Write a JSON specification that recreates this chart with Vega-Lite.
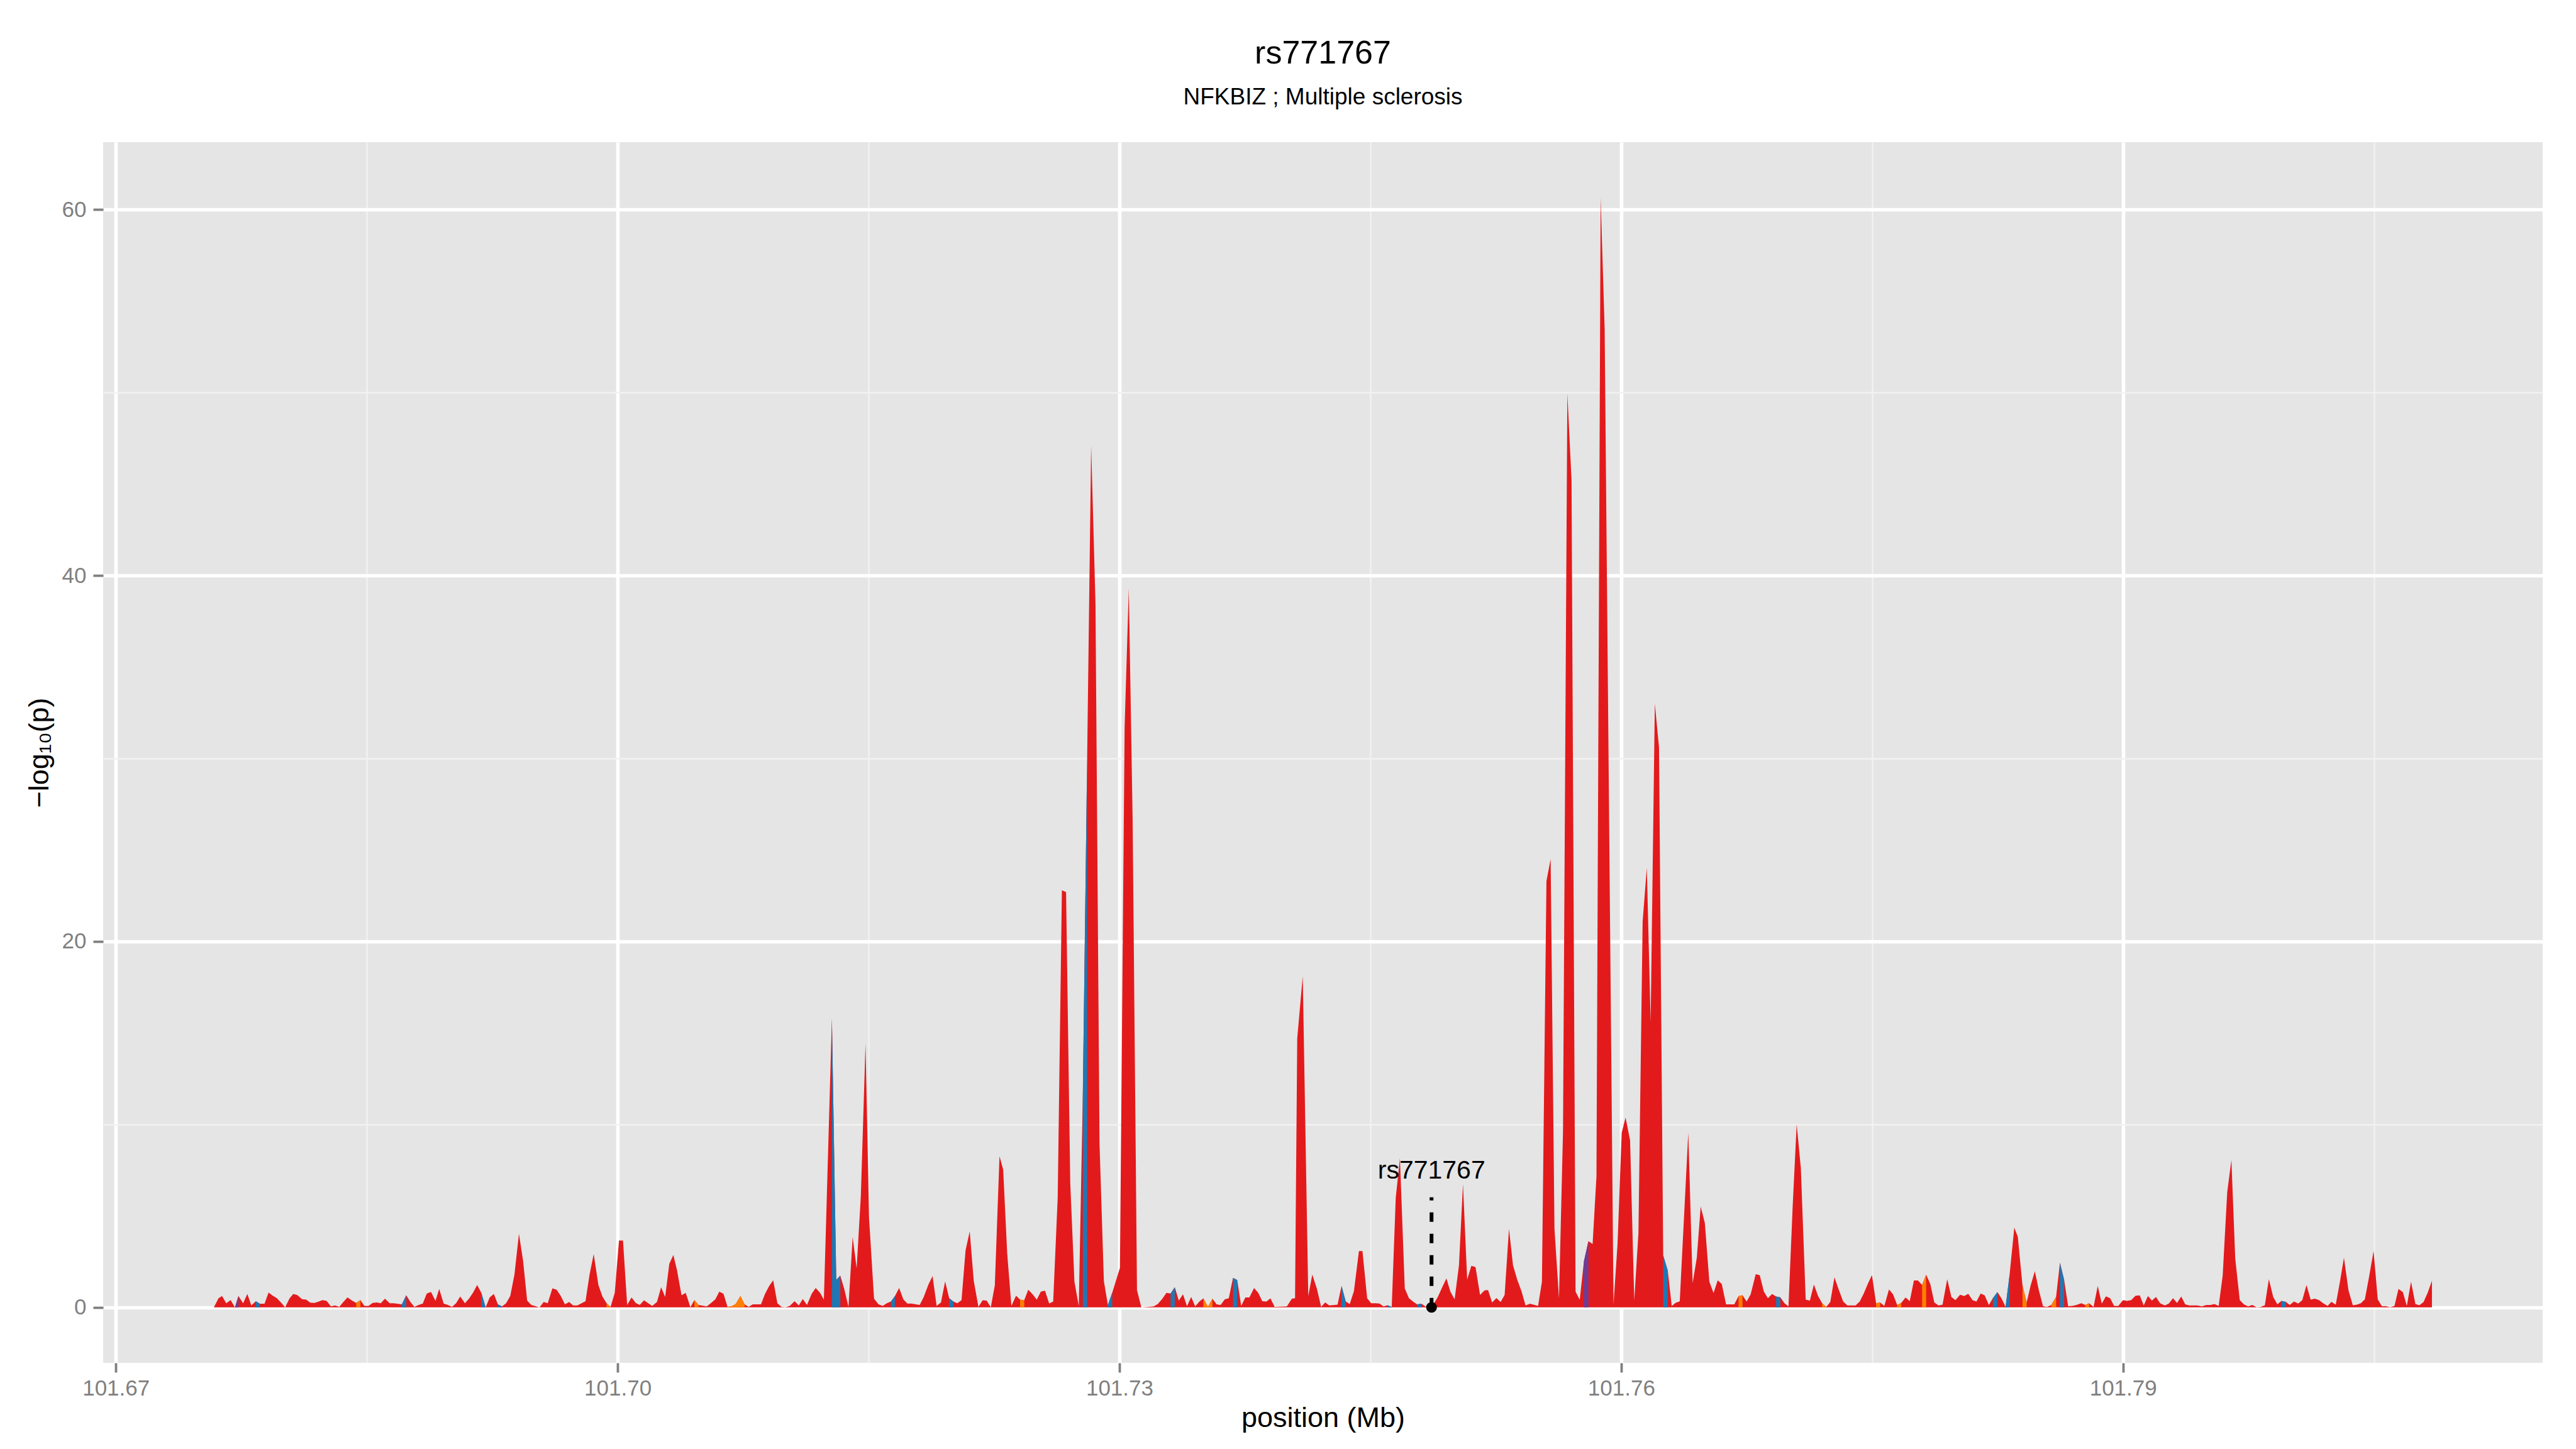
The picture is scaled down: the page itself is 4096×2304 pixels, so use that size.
{
"$schema":"https://vega.github.io/schema/vega-lite/v6.json",
"autosize":{"type":"none"},
"width":3879,"height":1941,
"padding":{"left":164,"top":226,"right":53,"bottom":137},
"background":"white",
"config":{"font":"Liberation Sans","view":{"fill":"#E5E5E5","stroke":null}},
"title":{"text":"rs771767","subtitle":"NFKBIZ ; Multiple sclerosis","anchor":"middle","frame":"group","fontSize":52,"subtitleFontSize":37,"fontWeight":"normal","color":"black","subtitleColor":"black","subtitlePadding":25,"offset":52,"font":"Liberation Sans","subtitleFont":"Liberation Sans"},
"datasets":{
"snp":[
{"pos":101.67586,"logp":0},{"pos":101.67614,"logp":0.5},{"pos":101.67635,"logp":0.62},{"pos":101.6766,"logp":0.22},{"pos":101.67686,"logp":0.4},{"pos":101.67712,"logp":0},{"pos":101.67733,"logp":0.62},{"pos":101.67761,"logp":0.22},{"pos":101.67786,"logp":0.73},{"pos":101.6781,"logp":0.1},
{"pos":101.67837,"logp":0.34},{"pos":101.67861,"logp":0.2},{"pos":101.67889,"logp":0.2},{"pos":101.67913,"logp":0.81},{"pos":101.67938,"logp":0.64},{"pos":101.67963,"logp":0.5},{"pos":101.67987,"logp":0.27},{"pos":101.68012,"logp":0},{"pos":101.68039,"logp":0.5},{"pos":101.68061,"logp":0.73},
{"pos":101.68085,"logp":0.67},{"pos":101.68113,"logp":0.45},{"pos":101.68138,"logp":0.42},{"pos":101.68162,"logp":0.26},{"pos":101.68187,"logp":0.24},{"pos":101.68211,"logp":0.31},{"pos":101.68236,"logp":0.4},{"pos":101.6826,"logp":0.35},{"pos":101.68286,"logp":0.05},{"pos":101.68311,"logp":0.1},
{"pos":101.68336,"logp":0.03},{"pos":101.6836,"logp":0.29},{"pos":101.68385,"logp":0.54},{"pos":101.68412,"logp":0.37},{"pos":101.68437,"logp":0.24},{"pos":101.68462,"logp":0.4},{"pos":101.68486,"logp":0.08},{"pos":101.68511,"logp":0.08},{"pos":101.68535,"logp":0.24},{"pos":101.6856,"logp":0.27},
{"pos":101.68584,"logp":0.22},{"pos":101.68609,"logp":0.47},{"pos":101.68637,"logp":0.22},{"pos":101.68661,"logp":0.22},{"pos":101.6871,"logp":0.16},{"pos":101.68736,"logp":0.66},{"pos":101.68761,"logp":0.29},{"pos":101.68785,"logp":0.03},{"pos":101.6881,"logp":0.13},{"pos":101.68835,"logp":0.21},
{"pos":101.68859,"logp":0.76},{"pos":101.68884,"logp":0.84},{"pos":101.68911,"logp":0.35},{"pos":101.68933,"logp":1.01},{"pos":101.6896,"logp":0.21},{"pos":101.68985,"logp":0.13},{"pos":101.6901,"logp":0.03},{"pos":101.69034,"logp":0.22},{"pos":101.69059,"logp":0.59},{"pos":101.69087,"logp":0.22},
{"pos":101.69111,"logp":0.47},{"pos":101.69136,"logp":0.81},{"pos":101.6916,"logp":1.22},{"pos":101.69185,"logp":0.79},{"pos":101.69211,"logp":0},{"pos":101.69235,"logp":0.54},{"pos":101.6926,"logp":0.73},{"pos":101.69284,"logp":0.16},{"pos":101.69309,"logp":0.05},{"pos":101.69333,"logp":0.22},
{"pos":101.69358,"logp":0.62},{"pos":101.69383,"logp":1.79},{"pos":101.6941,"logp":4.02},{"pos":101.69435,"logp":2.52},{"pos":101.69459,"logp":0.37},{"pos":101.69484,"logp":0.13},{"pos":101.69533,"logp":0},{"pos":101.69558,"logp":0.29},{"pos":101.69582,"logp":0.22},{"pos":101.6961,"logp":1.04},
{"pos":101.69635,"logp":0.96},{"pos":101.69659,"logp":0.64},{"pos":101.69685,"logp":0.16},{"pos":101.6971,"logp":0.29},{"pos":101.69734,"logp":0.1},{"pos":101.69759,"logp":0.1},{"pos":101.69808,"logp":0.34},{"pos":101.69832,"logp":1.79},{"pos":101.69857,"logp":2.91},{"pos":101.69885,"logp":1.22},
{"pos":101.69909,"logp":0.59},{"pos":101.69934,"logp":0.22},{"pos":101.69958,"logp":0.03},{"pos":101.69983,"logp":0.81},{"pos":101.70008,"logp":3.65},{"pos":101.70032,"logp":3.65},{"pos":101.70057,"logp":0.13},{"pos":101.70083,"logp":0.54},{"pos":101.70108,"logp":0.24},{"pos":101.70132,"logp":0.13},
{"pos":101.70158,"logp":0.39},{"pos":101.70183,"logp":0.22},{"pos":101.70207,"logp":0.08},{"pos":101.70235,"logp":0.29},{"pos":101.7026,"logp":1.1},{"pos":101.70284,"logp":0.57},{"pos":101.70309,"logp":2.38},{"pos":101.70333,"logp":2.86},{"pos":101.70355,"logp":2.03},{"pos":101.70382,"logp":0.66},
{"pos":101.70407,"logp":0.79},{"pos":101.70435,"logp":0.01},{"pos":101.70459,"logp":0.4},{"pos":101.70484,"logp":0.13},{"pos":101.70533,"logp":0.05},{"pos":101.70559,"logp":0.24},{"pos":101.70584,"logp":0.44},{"pos":101.70608,"logp":0.86},{"pos":101.70633,"logp":0.74},{"pos":101.70657,"logp":0.03},
{"pos":101.70682,"logp":0.06},{"pos":101.70706,"logp":0.18},{"pos":101.70734,"logp":0.62},{"pos":101.70759,"logp":0.16},{"pos":101.70783,"logp":0.03},{"pos":101.70808,"logp":0.16},{"pos":101.70857,"logp":0.16},{"pos":101.70881,"logp":0.73},{"pos":101.70906,"logp":1.17},{"pos":101.7093,"logp":1.48},
{"pos":101.70955,"logp":0.22},{"pos":101.7098,"logp":0.03},{"pos":101.71004,"logp":0.01},{"pos":101.71029,"logp":0.08},{"pos":101.71058,"logp":0.34},{"pos":101.71083,"logp":0.1},{"pos":101.71107,"logp":0.46},{"pos":101.71132,"logp":0.13},{"pos":101.7116,"logp":0.74},{"pos":101.71184,"logp":1.06},
{"pos":101.71209,"logp":0.81},{"pos":101.71233,"logp":0.42},{"pos":101.71281,"logp":15.8},{"pos":101.71307,"logp":1.5},{"pos":101.71331,"logp":1.74},{"pos":101.71356,"logp":0.96},{"pos":101.7138,"logp":0.03},{"pos":101.71405,"logp":3.84},{"pos":101.71429,"logp":2.13},{"pos":101.71454,"logp":6.09},
{"pos":101.71482,"logp":14.4},{"pos":101.71503,"logp":4.9},{"pos":101.71533,"logp":0.47},{"pos":101.7156,"logp":0.16},{"pos":101.71585,"logp":0.08},{"pos":101.71609,"logp":0.22},{"pos":101.71634,"logp":0.32},{"pos":101.71658,"logp":0.62},{"pos":101.71683,"logp":1.06},{"pos":101.71708,"logp":0.44},
{"pos":101.71732,"logp":0.21},{"pos":101.71757,"logp":0.21},{"pos":101.71806,"logp":0.13},{"pos":101.7183,"logp":0.57},{"pos":101.71858,"logp":1.25},{"pos":101.71883,"logp":1.71},{"pos":101.71907,"logp":0.08},{"pos":101.71933,"logp":0.27},{"pos":101.71958,"logp":1.42},{"pos":101.71982,"logp":0.5},
{"pos":101.72007,"logp":0.32},{"pos":101.72031,"logp":0.22},{"pos":101.72056,"logp":0.4},{"pos":101.7208,"logp":3.11},{"pos":101.72105,"logp":4.15},{"pos":101.72129,"logp":1.45},{"pos":101.72157,"logp":0.03},{"pos":101.72182,"logp":0.39},{"pos":101.72206,"logp":0.37},{"pos":101.72231,"logp":0.01},
{"pos":101.72255,"logp":1.2},{"pos":101.72283,"logp":8.26},{"pos":101.72305,"logp":7.53},{"pos":101.72329,"logp":2.96},{"pos":101.72354,"logp":0.08},{"pos":101.72382,"logp":0.64},{"pos":101.72406,"logp":0.42},{"pos":101.72431,"logp":0.4},{"pos":101.72455,"logp":0.96},{"pos":101.72481,"logp":0.71},
{"pos":101.72506,"logp":0.42},{"pos":101.7253,"logp":0.86},{"pos":101.72555,"logp":0.91},{"pos":101.7258,"logp":0.21},{"pos":101.72604,"logp":0.32},{"pos":101.72631,"logp":6.0},{"pos":101.72656,"logp":22.8},{"pos":101.72681,"logp":22.7},{"pos":101.72706,"logp":6.8},{"pos":101.72731,"logp":1.4},
{"pos":101.72757,"logp":0.07},{"pos":101.72781,"logp":11.5},{"pos":101.72807,"logp":30.0},{"pos":101.72831,"logp":47.1},{"pos":101.72857,"logp":38.4},{"pos":101.72881,"logp":8.95},{"pos":101.72907,"logp":1.44},{"pos":101.72931,"logp":0.13},{"pos":101.72957,"logp":0.8},{"pos":101.73003,"logp":2.16},
{"pos":101.73031,"logp":31.7},{"pos":101.73056,"logp":39.3},{"pos":101.73079,"logp":26.6},{"pos":101.73105,"logp":0.95},{"pos":101.73131,"logp":0},{"pos":101.73205,"logp":0.05},{"pos":101.73229,"logp":0.18},{"pos":101.73254,"logp":0.44},{"pos":101.73281,"logp":0.79},{"pos":101.73306,"logp":0.76},
{"pos":101.73331,"logp":1.1},{"pos":101.73355,"logp":0.37},{"pos":101.7338,"logp":0.71},{"pos":101.73404,"logp":0.06},{"pos":101.73429,"logp":0.57},{"pos":101.73453,"logp":0.05},{"pos":101.73478,"logp":0.32},{"pos":101.73502,"logp":0.49},{"pos":101.73529,"logp":0.03},{"pos":101.73556,"logp":0.47},
{"pos":101.73581,"logp":0.16},{"pos":101.73605,"logp":0.13},{"pos":101.7363,"logp":0.44},{"pos":101.73654,"logp":0.5},{"pos":101.73679,"logp":1.61},{"pos":101.73704,"logp":1.5},{"pos":101.73728,"logp":0.08},{"pos":101.73753,"logp":0.54},{"pos":101.73777,"logp":0.54},{"pos":101.73805,"logp":1.06},
{"pos":101.7383,"logp":0.79},{"pos":101.73854,"logp":0.34},{"pos":101.73879,"logp":0.32},{"pos":101.73903,"logp":0.49},{"pos":101.73928,"logp":0.03},{"pos":101.74001,"logp":0.05},{"pos":101.74031,"logp":0.47},{"pos":101.7405,"logp":0.5},{"pos":101.74063,"logp":14.7},{"pos":101.74096,"logp":18.1},
{"pos":101.74129,"logp":0.62},{"pos":101.74153,"logp":1.79},{"pos":101.74181,"logp":1.01},{"pos":101.74206,"logp":0.03},{"pos":101.7423,"logp":0.27},{"pos":101.74255,"logp":0.1},{"pos":101.74304,"logp":0.15},{"pos":101.74328,"logp":1.17},{"pos":101.74353,"logp":0.32},{"pos":101.74377,"logp":0.18},
{"pos":101.74402,"logp":0.89},{"pos":101.74432,"logp":3.08},{"pos":101.74453,"logp":3.08},{"pos":101.74481,"logp":0.5},{"pos":101.74505,"logp":0.22},{"pos":101.7453,"logp":0.22},{"pos":101.74555,"logp":0.21},{"pos":101.74579,"logp":0.05},{"pos":101.74603,"logp":0.11},{"pos":101.74628,"logp":0.03},
{"pos":101.74652,"logp":5.99},{"pos":101.74677,"logp":8.16},{"pos":101.74706,"logp":1.03},{"pos":101.74731,"logp":0.5},{"pos":101.74755,"logp":0.32},{"pos":101.7478,"logp":0.16},{"pos":101.74805,"logp":0.2},{"pos":101.74829,"logp":0.05},{"pos":101.74866,"logp":0},{"pos":101.74902,"logp":0.54},
{"pos":101.74929,"logp":1.08},{"pos":101.74955,"logp":1.58},{"pos":101.74979,"logp":0.85},{"pos":101.75004,"logp":0.44},{"pos":101.7503,"logp":2.3},{"pos":101.75054,"logp":6.74},{"pos":101.75079,"logp":1.52},{"pos":101.75104,"logp":2.27},{"pos":101.75129,"logp":2.2},{"pos":101.75156,"logp":0.68},
{"pos":101.75183,"logp":0.93},{"pos":101.75204,"logp":0.95},{"pos":101.75228,"logp":0.27},{"pos":101.75254,"logp":0.51},{"pos":101.75279,"logp":0.29},{"pos":101.75303,"logp":0.68},{"pos":101.75329,"logp":4.3},{"pos":101.75353,"logp":2.3},{"pos":101.75378,"logp":1.52},{"pos":101.75404,"logp":0.88},
{"pos":101.75428,"logp":0.1},{"pos":101.75455,"logp":0.2},{"pos":101.75503,"logp":0.08},{"pos":101.75526,"logp":1.4},{"pos":101.75553,"logp":23.3},{"pos":101.75578,"logp":24.5},{"pos":101.75601,"logp":4.28},{"pos":101.75628,"logp":0.49},{"pos":101.75652,"logp":9.63},{"pos":101.75678,"logp":49.96},
{"pos":101.75703,"logp":45.2},{"pos":101.75727,"logp":0.86},{"pos":101.75752,"logp":0.41},{"pos":101.75777,"logp":2.51},{"pos":101.75804,"logp":3.62},{"pos":101.75829,"logp":3.46},{"pos":101.75852,"logp":7.16},{"pos":101.75877,"logp":60.66},{"pos":101.75901,"logp":53.46},{"pos":101.75954,"logp":0.16},
{"pos":101.75978,"logp":3.46},{"pos":101.76003,"logp":9.55},{"pos":101.76026,"logp":10.37},{"pos":101.76053,"logp":9.14},{"pos":101.76078,"logp":0.37},{"pos":101.76103,"logp":4.07},{"pos":101.76128,"logp":21.07},{"pos":101.76153,"logp":24.03},{"pos":101.76176,"logp":15.6},{"pos":101.76201,"logp":33.0},
{"pos":101.76226,"logp":30.6},{"pos":101.76251,"logp":2.84},{"pos":101.76278,"logp":2.02},{"pos":101.76302,"logp":0.08},{"pos":101.76326,"logp":0.25},{"pos":101.7635,"logp":0.33},{"pos":101.76401,"logp":9.55},{"pos":101.76427,"logp":1.32},{"pos":101.76452,"logp":2.72},{"pos":101.76475,"logp":5.51},
{"pos":101.765,"logp":4.61},{"pos":101.76527,"logp":1.4},{"pos":101.76552,"logp":0.78},{"pos":101.76577,"logp":1.48},{"pos":101.76601,"logp":1.28},{"pos":101.76627,"logp":0.16},{"pos":101.76676,"logp":0.16},{"pos":101.76702,"logp":0.62},{"pos":101.76725,"logp":0.66},{"pos":101.7675,"logp":0.32},
{"pos":101.76774,"logp":0.71},{"pos":101.76804,"logp":1.81},{"pos":101.76828,"logp":1.76},{"pos":101.76853,"logp":0.86},{"pos":101.76877,"logp":0.5},{"pos":101.76902,"logp":0.73},{"pos":101.76926,"logp":0.59},{"pos":101.76951,"logp":0.55},{"pos":101.76976,"logp":0.22},{"pos":101.77,"logp":0.05},
{"pos":101.77025,"logp":5.5},{"pos":101.77049,"logp":10.0},{"pos":101.77074,"logp":7.61},{"pos":101.77103,"logp":0.42},{"pos":101.77128,"logp":0.37},{"pos":101.77152,"logp":1.25},{"pos":101.77177,"logp":0.62},{"pos":101.77201,"logp":0.22},{"pos":101.77226,"logp":0.03},{"pos":101.7725,"logp":0.29},
{"pos":101.77275,"logp":1.64},{"pos":101.77299,"logp":1.01},{"pos":101.77327,"logp":0.32},{"pos":101.77352,"logp":0.1},{"pos":101.77401,"logp":0.1},{"pos":101.77426,"logp":0.32},{"pos":101.7745,"logp":0.76},{"pos":101.77475,"logp":1.3},{"pos":101.77499,"logp":1.76},{"pos":101.77524,"logp":0.22},
{"pos":101.77548,"logp":0.27},{"pos":101.77573,"logp":0.08},{"pos":101.77601,"logp":0.98},{"pos":101.77625,"logp":0.71},{"pos":101.7765,"logp":0.13},{"pos":101.77674,"logp":0.24},{"pos":101.777,"logp":0.54},{"pos":101.77725,"logp":0.34},{"pos":101.7775,"logp":1.47},{"pos":101.77774,"logp":1.47},
{"pos":101.77799,"logp":1.22},{"pos":101.77823,"logp":1.79},{"pos":101.77848,"logp":1.27},{"pos":101.77872,"logp":0.27},{"pos":101.77897,"logp":0.1},{"pos":101.77921,"logp":0.15},{"pos":101.77949,"logp":1.54},{"pos":101.77974,"logp":0.57},{"pos":101.77998,"logp":0.4},{"pos":101.78026,"logp":0.69},
{"pos":101.78051,"logp":0.62},{"pos":101.78075,"logp":0.74},{"pos":101.781,"logp":0.4},{"pos":101.78124,"logp":0.32},{"pos":101.78149,"logp":0.76},{"pos":101.78173,"logp":0.65},{"pos":101.78198,"logp":0.13},{"pos":101.78222,"logp":0.5},{"pos":101.78249,"logp":0.83},{"pos":101.78273,"logp":0.5},
{"pos":101.78298,"logp":0.03},{"pos":101.78322,"logp":1.79},{"pos":101.7835,"logp":4.36},{"pos":101.78371,"logp":3.86},{"pos":101.78399,"logp":1.2},{"pos":101.78424,"logp":0.27},{"pos":101.78448,"logp":1.2},{"pos":101.78473,"logp":1.98},{"pos":101.78497,"logp":0.93},{"pos":101.78522,"logp":0.06},
{"pos":101.78546,"logp":0.03},{"pos":101.78571,"logp":0.13},{"pos":101.786,"logp":0.57},{"pos":101.78623,"logp":2.44},{"pos":101.78648,"logp":1.5},{"pos":101.78672,"logp":0.06},{"pos":101.78697,"logp":0.08},{"pos":101.78721,"logp":0.13},{"pos":101.78751,"logp":0.22},{"pos":101.78775,"logp":0.13},
{"pos":101.78797,"logp":0.22},{"pos":101.78824,"logp":0.03},{"pos":101.78849,"logp":1.17},{"pos":101.78873,"logp":0.21},{"pos":101.78898,"logp":0.6},{"pos":101.78923,"logp":0.5},{"pos":101.78947,"logp":0.08},{"pos":101.78972,"logp":0.08},{"pos":101.79,"logp":0.4},{"pos":101.79024,"logp":0.35},
{"pos":101.79049,"logp":0.4},{"pos":101.79075,"logp":0.64},{"pos":101.791,"logp":0.65},{"pos":101.79124,"logp":0.1},{"pos":101.79149,"logp":0.62},{"pos":101.79173,"logp":0.37},{"pos":101.79197,"logp":0.57},{"pos":101.79222,"logp":0.22},{"pos":101.7925,"logp":0.1},{"pos":101.79274,"logp":0.21},
{"pos":101.79299,"logp":0.5},{"pos":101.79323,"logp":0.24},{"pos":101.79348,"logp":0.59},{"pos":101.79372,"logp":0.16},{"pos":101.79397,"logp":0.1},{"pos":101.79446,"logp":0.1},{"pos":101.79471,"logp":0.05},{"pos":101.79498,"logp":0.13},{"pos":101.79523,"logp":0.13},{"pos":101.79547,"logp":0.18},
{"pos":101.79572,"logp":0.08},{"pos":101.79596,"logp":1.74},{"pos":101.79623,"logp":6.29},{"pos":101.79648,"logp":8.06},{"pos":101.79671,"logp":2.67},{"pos":101.79698,"logp":0.4},{"pos":101.79723,"logp":0.16},{"pos":101.79748,"logp":0.05},{"pos":101.79773,"logp":0.13},{"pos":101.79798,"logp":0.01},
{"pos":101.79823,"logp":0.03},{"pos":101.79848,"logp":0.11},{"pos":101.79872,"logp":1.54},{"pos":101.79898,"logp":0.57},{"pos":101.79923,"logp":0.16},{"pos":101.79947,"logp":0.35},{"pos":101.79973,"logp":0.3},{"pos":101.79997,"logp":0.13},{"pos":101.80022,"logp":0.32},{"pos":101.80048,"logp":0.21},
{"pos":101.80072,"logp":0.4},{"pos":101.80097,"logp":1.22},{"pos":101.80122,"logp":0.42},{"pos":101.80147,"logp":0.47},{"pos":101.80172,"logp":0.4},{"pos":101.80197,"logp":0.22},{"pos":101.80223,"logp":0.08},{"pos":101.80246,"logp":0.3},{"pos":101.80272,"logp":0.15},{"pos":101.80297,"logp":1.4},
{"pos":101.80321,"logp":2.72},{"pos":101.80348,"logp":0.93},{"pos":101.80374,"logp":0.11},{"pos":101.80398,"logp":0.15},{"pos":101.80422,"logp":0.22},{"pos":101.80446,"logp":0.44},{"pos":101.80473,"logp":1.76},{"pos":101.80498,"logp":3.08},{"pos":101.80523,"logp":0.44},{"pos":101.80548,"logp":0.06},
{"pos":101.80572,"logp":0.06},{"pos":101.80598,"logp":0.01},{"pos":101.80623,"logp":0.08},{"pos":101.80647,"logp":1.01},{"pos":101.80673,"logp":0.83},{"pos":101.80697,"logp":0.08},{"pos":101.80722,"logp":1.4},{"pos":101.80748,"logp":0.18},{"pos":101.80772,"logp":0.11},{"pos":101.80797,"logp":0.29},
{"pos":101.80822,"logp":0.81},{"pos":101.80847,"logp":1.45}
],
"hl":[
{"seg":"p1","cat":"purple","pos":101.67712,"logp":0},{"seg":"p1","cat":"purple","pos":101.67733,"logp":0.62},
{"seg":"b1","cat":"blue","pos":101.67837,"logp":0.34},{"seg":"b1","cat":"blue","pos":101.67861,"logp":0.2},
{"seg":"o1","cat":"orange","pos":101.68437,"logp":0.24},{"seg":"o1","cat":"orange","pos":101.68462,"logp":0.4},
{"seg":"b2","cat":"blue","pos":101.6871,"logp":0.16},{"seg":"b2","cat":"blue","pos":101.68736,"logp":0.66},
{"seg":"b3","cat":"blue","pos":101.69185,"logp":0.79},{"seg":"b3","cat":"blue","pos":101.69211,"logp":0},
{"seg":"b4","cat":"blue","pos":101.69284,"logp":0.16},{"seg":"b4","cat":"blue","pos":101.69309,"logp":0.05},
{"seg":"o2","cat":"orange","pos":101.69934,"logp":0.22},{"seg":"o2","cat":"orange","pos":101.69958,"logp":0.03},
{"seg":"o3","cat":"orange","pos":101.70459,"logp":0.4},{"seg":"o3","cat":"orange","pos":101.70484,"logp":0.13},
{"seg":"o4","cat":"orange","pos":101.70657,"logp":0.03},{"seg":"o4","cat":"orange","pos":101.70682,"logp":0.06},{"seg":"o4","cat":"orange","pos":101.70706,"logp":0.18},{"seg":"o4","cat":"orange","pos":101.70734,"logp":0.62},{"seg":"o4","cat":"orange","pos":101.70759,"logp":0.16},
{"seg":"b5","cat":"blue","pos":101.71281,"logp":15.8},{"seg":"b5","cat":"blue","pos":101.71307,"logp":1.5},{"seg":"b5","cat":"blue","pos":101.71331,"logp":1.74},
{"seg":"b6","cat":"blue","pos":101.71634,"logp":0.32},{"seg":"b6","cat":"blue","pos":101.71658,"logp":0.62},
{"seg":"b7","cat":"blue","pos":101.71982,"logp":0.5},{"seg":"b7","cat":"blue","pos":101.72007,"logp":0.32},
{"seg":"o5","cat":"orange","pos":101.72406,"logp":0.42},{"seg":"o5","cat":"orange","pos":101.72431,"logp":0.4},
{"seg":"b8","cat":"blue","pos":101.72781,"logp":11.5},{"seg":"b8","cat":"blue","pos":101.72807,"logp":30.0},
{"seg":"b9","cat":"blue","pos":101.72931,"logp":0.13},{"seg":"b9","cat":"blue","pos":101.72957,"logp":0.8},
{"seg":"b10","cat":"blue","pos":101.73306,"logp":0.76},{"seg":"b10","cat":"blue","pos":101.73331,"logp":1.1},
{"seg":"o6","cat":"orange","pos":101.73502,"logp":0.49},{"seg":"o6","cat":"orange","pos":101.73529,"logp":0.03},{"seg":"o6","cat":"orange","pos":101.73556,"logp":0.47},
{"seg":"b11","cat":"blue","pos":101.73679,"logp":1.61},{"seg":"b11","cat":"blue","pos":101.73704,"logp":1.5},
{"seg":"b12","cat":"blue","pos":101.74328,"logp":1.17},{"seg":"b12","cat":"blue","pos":101.74353,"logp":0.32},
{"seg":"b13","cat":"blue","pos":101.74603,"logp":0.11},{"seg":"b13","cat":"blue","pos":101.74628,"logp":0.03},
{"seg":"b14","cat":"blue","pos":101.7478,"logp":0.16},{"seg":"b14","cat":"blue","pos":101.74805,"logp":0.2},
{"seg":"p2","cat":"purple","pos":101.75777,"logp":2.51},{"seg":"p2","cat":"purple","pos":101.75804,"logp":3.62},
{"seg":"b15","cat":"blue","pos":101.76251,"logp":2.84},{"seg":"b15","cat":"blue","pos":101.76278,"logp":2.02},
{"seg":"o7","cat":"orange","pos":101.76702,"logp":0.62},{"seg":"o7","cat":"orange","pos":101.76725,"logp":0.66},
{"seg":"b16","cat":"blue","pos":101.76926,"logp":0.59},{"seg":"b16","cat":"blue","pos":101.76951,"logp":0.55},
{"seg":"o8","cat":"orange","pos":101.77201,"logp":0.22},{"seg":"o8","cat":"orange","pos":101.77226,"logp":0.03},
{"seg":"o9","cat":"orange","pos":101.77524,"logp":0.22},{"seg":"o9","cat":"orange","pos":101.77548,"logp":0.27},
{"seg":"o10","cat":"orange","pos":101.7765,"logp":0.13},{"seg":"o10","cat":"orange","pos":101.77674,"logp":0.24},
{"seg":"o11","cat":"orange","pos":101.77799,"logp":1.22},{"seg":"o11","cat":"orange","pos":101.77823,"logp":1.79},
{"seg":"b17","cat":"blue","pos":101.78222,"logp":0.5},{"seg":"b17","cat":"blue","pos":101.78249,"logp":0.83},
{"seg":"b18","cat":"blue","pos":101.78298,"logp":0.03},{"seg":"b18","cat":"blue","pos":101.78322,"logp":1.79},
{"seg":"o12","cat":"orange","pos":101.78399,"logp":1.2},{"seg":"o12","cat":"orange","pos":101.78424,"logp":0.27},
{"seg":"o13","cat":"orange","pos":101.78571,"logp":0.13},{"seg":"o13","cat":"orange","pos":101.786,"logp":0.57},
{"seg":"b19","cat":"blue","pos":101.78623,"logp":2.44},{"seg":"b19","cat":"blue","pos":101.78648,"logp":1.5},
{"seg":"o14","cat":"orange","pos":101.78775,"logp":0.13},{"seg":"o14","cat":"orange","pos":101.78797,"logp":0.22},
{"seg":"b20","cat":"blue","pos":101.79947,"logp":0.35},{"seg":"b20","cat":"blue","pos":101.79973,"logp":0.3}
],
"marker":[{"pos":101.74866,"logp":0,"top":6.02}],
"label":[{"pos":101.74866,"logp":7.05,"label":"rs771767"}]
},
"encoding":{
"x":{"field":"pos","type":"quantitative","scale":{"domain":[101.66924,101.81509],"nice":false,"zero":false},
"axis":{"title":"position (Mb)","values":[101.67,101.685,101.7,101.715,101.73,101.745,101.76,101.775,101.79,101.805],
"labelExpr":"abs(round(datum.value*100)-datum.value*100)<0.01 ? format(datum.value,'.2f') : ''",
"gridColor":{"condition":{"test":"abs(round(datum.value*100)-datum.value*100)<0.01","value":"#FFFFFF"},"value":"#F2F2F2"},
"gridWidth":{"condition":{"test":"abs(round(datum.value*100)-datum.value*100)<0.01","value":5.6},"value":2.4},
"tickColor":{"condition":{"test":"abs(round(datum.value*100)-datum.value*100)<0.01","value":"#7F7F7F"},"value":"transparent"},
"tickSize":15,"tickWidth":3.8,"domain":false,"labelFontSize":35,"labelColor":"#7F7F7F","labelPadding":25,"labelBaseline":"middle","labelFlush":false,"labelOverlap":false,
"titleFontSize":45,"titleFontWeight":"normal","titleColor":"black","titleX":1939.5,"titleY":87,"titleBaseline":"middle","titleAlign":"center"}},
"y":{"field":"logp","type":"quantitative","scale":{"domain":[-3.033,63.69],"nice":false,"zero":false},
"axis":{"title":"−log₁₀(p)","values":[0,10,20,30,40,50,60],
"labelExpr":"datum.value % 20 == 0 ? datum.label : ''",
"gridColor":{"condition":{"test":"datum.value % 20 == 0","value":"#FFFFFF"},"value":"#F2F2F2"},
"gridWidth":{"condition":{"test":"datum.value % 20 == 0","value":5.6},"value":2.4},
"tickColor":{"condition":{"test":"datum.value % 20 == 0","value":"#7F7F7F"},"value":"transparent"},
"tickSize":16,"tickWidth":3.8,"domain":false,"labelFontSize":35,"labelColor":"#7F7F7F","labelPadding":11,"labelOverlap":false,
"titleFontSize":45,"titleFontWeight":"normal","titleColor":"black","titleX":-102,"titleY":970.5,"titleAngle":270,"titleBaseline":"middle","titleAlign":"center"}}
},
"layer":[
{"data":{"name":"snp"},"mark":{"type":"area","color":"#E31A1C","interpolate":"linear"},"encoding":{}},
{"data":{"name":"hl"},"mark":{"type":"area","interpolate":"linear"},"encoding":{"y":{"field":"logp","type":"quantitative","stack":null},"detail":{"field":"seg"},"color":{"field":"cat","type":"nominal","scale":{"domain":["blue","orange","purple"],"range":["#1F78B4","#FF7F00","#6A3D9A"]},"legend":null}}},
{"data":{"name":"marker"},"mark":{"type":"rule","color":"black","strokeWidth":6,"strokeDash":[15,19]},"encoding":{"y2":{"field":"top"}}},
{"data":{"name":"marker"},"mark":{"type":"point","filled":true,"size":293,"color":"black","opacity":1},"encoding":{}},
{"data":{"name":"label"},"mark":{"type":"text","fontSize":41,"baseline":"alphabetic","align":"center","color":"black","font":"Liberation Sans"},"encoding":{"text":{"field":"label"}}}
]
}
